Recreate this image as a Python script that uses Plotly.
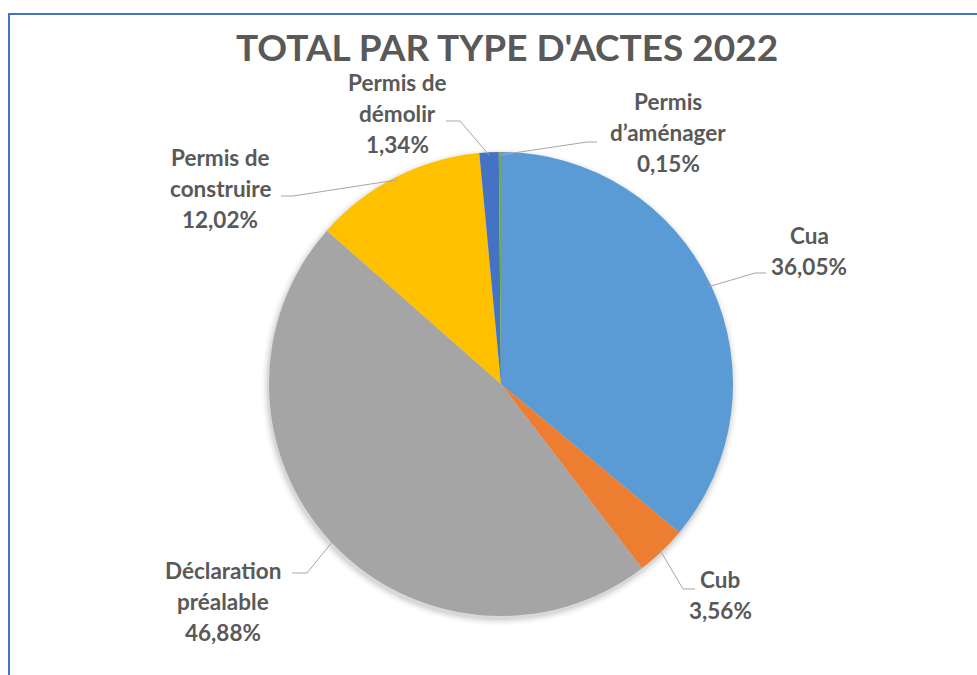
import math
import plotly.graph_objects as go

# ---- data ----
categories = ["Cua", "Cub", "Déclaration préalable", "Permis de construire",
              "Permis de démolir", "Permis d’aménager"]
values = [36.05, 3.56, 46.88, 12.02, 1.34, 0.15]
label_lines = [["Cua"], ["Cub"], ["Déclaration", "préalable"], ["Permis de", "construire"],
               ["Permis de", "démolir"], ["Permis", "d’aménager"]]
colors = ["#5B9BD5", "#ED7D31", "#A5A5A5", "#FFC000", "#4472C4", "#70AD47"]
title = "TOTAL PAR TYPE D'ACTES 2022"

# ---- layout geometry (pixels) ----
W, H = 977, 675
CX, CY, R = 501, 384, 232
label_center = [(809, 251), (720, 595), (223, 601), (220, 188), (397, 113), (668, 133)]
leader_elbow = [(755, 273), (683, 589), (307, 573), (293, 196), (460, 121), (587, 142)]
leader_end = [(766, 273), (695, 589), (292, 573), (281, 196), (446, 121), (597, 142)]
LINE_H = 31
FONT = "Lato"
TXT = "#595959"


def px(x):
    return x / W


def py(y):
    return 1 - y / H


fig = go.Figure()
fig.add_trace(go.Pie(
    labels=categories, values=values, sort=False, direction="clockwise", rotation=0,
    marker=dict(colors=colors, line=dict(width=0)), textinfo="none", hoverinfo="label+percent",
    domain=dict(x=[px(CX - R), px(CX + R)], y=[py(CY + R), py(CY - R)]),
    showlegend=False,
))

shapes = []
# soft shadow
for i, a in enumerate([0.05, 0.04, 0.03, 0.02, 0.012]):
    rr = R + 1 + i * 1.5
    shapes.append(dict(type="circle", xref="paper", yref="paper", layer="below",
                       x0=px(CX - rr - 1), x1=px(CX + rr - 1), y0=py(CY + 3 + rr), y1=py(CY + 3 - rr),
                       fillcolor=f"rgba(0,0,0,{a})", line=dict(width=0)))
# border
shapes.append(dict(type="rect", xref="paper", yref="paper", x0=px(9), x1=px(990), y0=py(690), y1=py(14),
                   line=dict(color="#4472C4", width=2)))

annotations = []
total = sum(values)
cum = 0.0
for i, v in enumerate(values):
    mid = (cum + v / 2) / total * 2 * math.pi
    cum += v
    sx = CX + (R - 3) * math.sin(mid)
    sy = CY - (R - 3) * math.cos(mid)
    ex, ey = leader_elbow[i]
    tx, ty = leader_end[i]
    shapes.append(dict(type="path", xref="paper", yref="paper",
                       path=f"M {px(sx)},{py(sy)} L {px(ex)},{py(ey)} L {px(tx)},{py(ty)}",
                       line=dict(color="#A6A6A6", width=1)))
    lines = label_lines[i] + [f"{v:.2f}".replace(".", ",") + "%"]
    lx, lyc = label_center[i]
    n = len(lines)
    for k, t in enumerate(lines):
        yk = lyc + (k - (n - 1) / 2) * LINE_H
        annotations.append(dict(text=f"<b>{t}</b>", x=px(lx), y=py(yk), xref="paper", yref="paper",
                                xanchor="center", yanchor="middle", showarrow=False,
                                font=dict(family=FONT, size=22.5, color=TXT)))

annotations.append(dict(text=f"<b>{title}</b>", x=px(507), y=py(46), xref="paper", yref="paper",
                        xanchor="center", yanchor="middle", showarrow=False,
                        font=dict(family=FONT, size=37, color=TXT)))

fig.update_layout(width=W, height=H, margin=dict(l=0, r=0, t=0, b=0),
                  paper_bgcolor="white", plot_bgcolor="white",
                  shapes=shapes, annotations=annotations)
fig.write_html("out.html", config={"displayModeBar": False},
               post_script="document.body.style.margin='0';document.body.style.padding='0';")
